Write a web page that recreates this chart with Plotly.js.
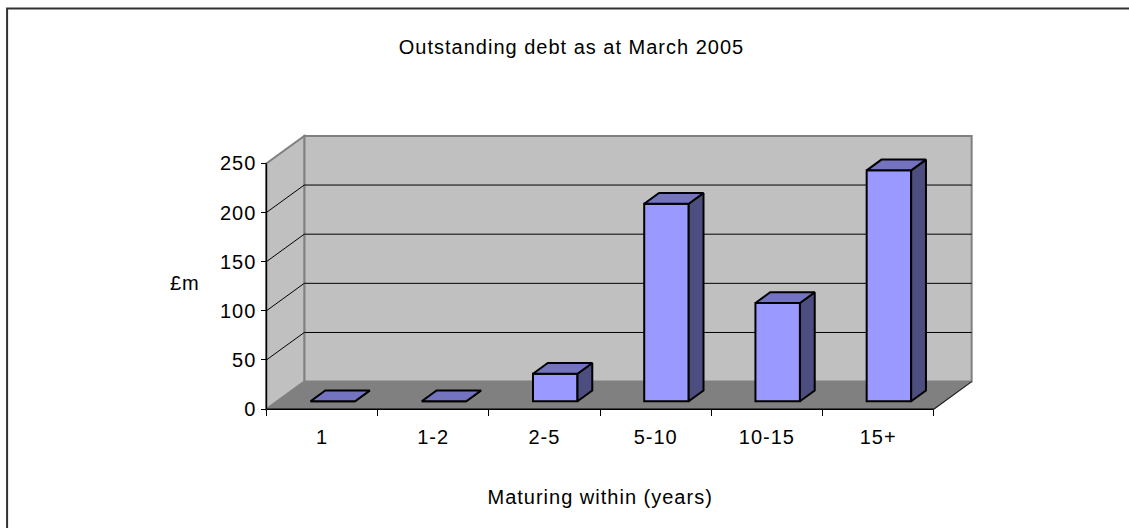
<!DOCTYPE html>
<html>
<head>
<meta charset="utf-8">
<script src="https://cdn.plot.ly/plotly-3.0.1.min.js"></script>
<style>html,body{margin:0;padding:0;background:#fff;}#chart{width:1129px;height:528px;}
.main-svg text{letter-spacing:1px;}</style>
</head>
<body>
<div id="chart"></div>
<script>
// ---- data ----
const categories = ["1", "1-2", "2-5", "5-10", "10-15", "15+"];
const debtValues = [0, 0, 28, 201, 100, 235];
const yTickValues = [0, 50, 100, 150, 200, 250];
const chartTitle = "Outstanding debt as at March 2005";
const xTitle = "Maturing within (years)";
const yTitle = "£m";

// ---- geometry (pixel mapping of the pseudo-3D box) ----
const W = 1129, H = 528;
const PX = 111.33, PY = 0.984;     // px per data unit
const X0 = 266, Y0 = 409.5;        // pixel of data (0,0) on the front plane
const DX = 0.341, DY = 28;         // depth offset in data units
const YMAXV = 250;
const F0 = 0.285, F1 = 0.675;      // bar front/back depth fractions
const BW = 0.40;                   // bar width in category units

const xmin = -0.12, xmax = 6 + DX + 0.12;
const ymin = -8, ymax = YMAXV + DY + 6;
const ml = X0 + xmin * PX;
const mr = W - (X0 + xmax * PX);
const mt = Y0 - ymax * PY;
const mb = H - (Y0 - ymin * PY);
const plotW = W - ml - mr, plotH = H - mt - mb;
const pxToPaperX = p => (p - ml) / plotW;
const pxToPaperY = p => ((H - mb) - p) / plotH;

const font = "Liberation Sans, Arial, sans-serif";
const FS = 20;
const n = categories.length;

// ---- walls, floor, gridlines ----
const shapes = [];
function poly(pts, fill, lineColor, lw) {
  let d = pts.map((p, i) => (i ? "L" : "M") + p[0] + "," + p[1]).join(" ") + " Z";
  shapes.push({type: "path", path: d, xref: "x", yref: "y", fillcolor: fill,
    line: {color: lineColor, width: lw}, layer: "below"});
}
// back wall
poly([[DX, DY], [DX, YMAXV + DY], [n + DX, YMAXV + DY], [n + DX, DY]], "#C0C0C0", "#808080", 2);
// left wall
poly([[0, 0], [0, YMAXV], [DX, YMAXV + DY], [DX, DY]], "#C0C0C0", "#808080", 2);
// floor
poly([[0, 0], [n, 0], [n + DX, DY], [DX, DY]], "#808080", "#808080", 1);
// gridlines
yTickValues.slice(1, -1).forEach(v => {
  shapes.push({type: "line", xref: "x", yref: "y", x0: DX, x1: n + DX, y0: v + DY, y1: v + DY,
    line: {color: "#000", width: 1}, layer: "below"});
  shapes.push({type: "line", xref: "x", yref: "y", x0: 0, x1: DX, y0: v, y1: v + DY,
    line: {color: "#000", width: 1}, layer: "below"});
});
// floor right edge
shapes.push({type: "line", xref: "x", yref: "y", x0: n, x1: n + DX, y0: 0, y1: DY,
  line: {color: "#202020", width: 1.2}, layer: "below"});
// front axis lines
shapes.push({type: "line", xref: "x", yref: "y", x0: 0, x1: 0, y0: 0, y1: YMAXV,
  line: {color: "#000", width: 1.5}, layer: "below"});
shapes.push({type: "line", xref: "x", yref: "y", x0: 0, x1: n, y0: 0, y1: 0,
  line: {color: "#000", width: 1.5}, layer: "below"});
// outer frame (top and left)
shapes.push({type: "path", xref: "paper", yref: "paper",
  path: "M" + pxToPaperX(6.5) + "," + pxToPaperY(H + 5) + " L" + pxToPaperX(6.5) + "," + pxToPaperY(8.5) +
        " L" + pxToPaperX(W + 5) + "," + pxToPaperY(8.5),
  line: {color: "#333", width: 2}});

// ---- bars ----
const traces = [];
const base = F0 * DY;
const shiftX = F0 * DX;
const dd = (F1 - F0);
traces.push({
  type: "bar",
  x: categories.map((c, i) => i + 0.5 + shiftX),
  y: debtValues,
  base: debtValues.map(() => base),
  width: BW,
  marker: {color: "#9999FF", line: {color: "#000", width: 2}},
  hoverinfo: "skip", showlegend: false, xaxis: "x", yaxis: "y"
});
debtValues.forEach((v, i) => {
  const x0 = i + 0.5 + shiftX - BW / 2, x1 = x0 + BW;
  const top = base + v;
  const ox = dd * DX, oy = dd * DY;
  // side face
  traces.push({type: "scatter", mode: "lines", fill: "toself", fillcolor: "#4D4D80",
    x: [x1, x1, x1 + ox, x1 + ox, x1], y: [base, top, top + oy, base + oy, base],
    line: {color: "#000", width: 2}, hoverinfo: "skip", showlegend: false});
  // top face
  traces.push({type: "scatter", mode: "lines", fill: "toself", fillcolor: "#7373BF",
    x: [x0, x1, x1 + ox, x0 + ox, x0], y: [top, top, top + oy, top + oy, top],
    line: {color: "#000", width: 2}, hoverinfo: "skip", showlegend: false});
});
// boundary tick marks axis
traces.push({type: "scatter", x: [0], y: [0], xaxis: "x2", yaxis: "y", mode: "markers",
  marker: {opacity: 0}, hoverinfo: "skip", showlegend: false});

const layout = {
  width: W, height: H,
  margin: {l: ml, r: mr, t: mt, b: mb, pad: 0},
  paper_bgcolor: "#fff", plot_bgcolor: "rgba(0,0,0,0)",
  font: {family: font, size: FS, color: "#000"},
  title: {text: chartTitle, x: 571.5 / W, xanchor: "center", xref: "container",
          y: 1 - 47 / H, yanchor: "middle", yref: "container", font: {size: FS, color: "#000"}},
  showlegend: false,
  xaxis: {range: [xmin, xmax], tickvals: categories.map((c, i) => i + 0.5), ticktext: categories,
    ticks: "", showgrid: false, zeroline: false, showline: false, anchor: "free",
    position: (0 - ymin) / (ymax - ymin), ticklabelstandoff: 14, fixedrange: true},
  xaxis2: {range: [xmin, xmax], overlaying: "x", tickvals: categories.map((c, i) => i).concat([n]),
    ticks: "outside", ticklen: 6, tickwidth: 1, tickcolor: "#000", showticklabels: false,
    showgrid: false, zeroline: false, showline: false, anchor: "free",
    position: (0 - ymin) / (ymax - ymin), side: "bottom"},
  yaxis: {range: [ymin, ymax], tickvals: yTickValues, ticks: "outside", ticklen: 5, tickwidth: 1,
    tickcolor: "#000", showgrid: false, zeroline: false, showline: false, anchor: "free",
    position: (0 - xmin) / (xmax - xmin), ticklabelstandoff: 1, fixedrange: true},
  shapes: shapes,
  annotations: [
    {text: yTitle, xref: "paper", yref: "paper", x: pxToPaperX(185), y: pxToPaperY(283),
     xanchor: "center", yanchor: "middle", showarrow: false, font: {size: FS}},
    {text: xTitle, xref: "paper", yref: "paper", x: pxToPaperX(600), y: pxToPaperY(497),
     xanchor: "center", yanchor: "middle", showarrow: false, font: {size: FS}}
  ],
  bargap: 0
};
Plotly.newPlot("chart", traces, layout, {displayModeBar: false, staticPlot: true});
</script>
</body>
</html>
